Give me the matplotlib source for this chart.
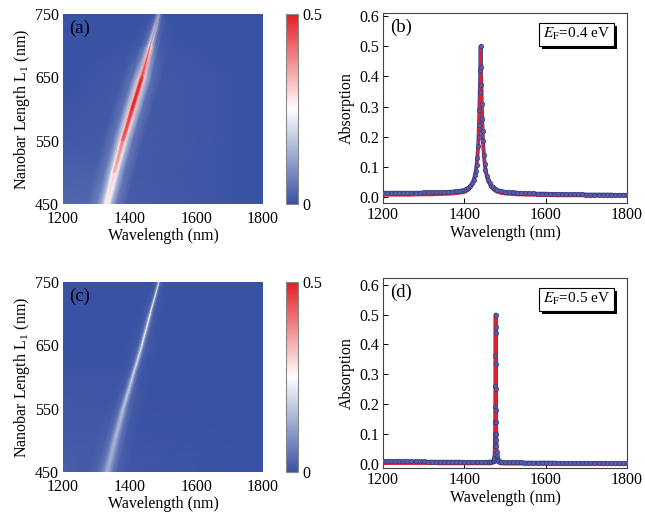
import numpy as np
import matplotlib
matplotlib.use("Agg")
import matplotlib.pyplot as plt
import matplotlib.patheffects as pe
from matplotlib.colors import LinearSegmentedColormap

plt.rcParams["font.family"] = ["Liberation Serif", "DejaVu Serif"]
plt.rcParams["mathtext.fontset"] = "stix"
plt.rcParams["font.size"] = 11.5

# ---- colour maps (a), (c): rows of nanobar length, values around the resonance ----
L_rows = [450, 500, 550, 600, 650, 700, 750]
offsets = [-60, -30, -15, -8, -4, 0, 4, 8, 15, 30, 60]   # nm from resonance

res_a = [1332, 1355, 1380, 1408, 1437, 1462, 1488]
edge_a = [0.03, 0.02, 0.01, 0.005, 0.0, 0.0, 0.0]       # value at 1200 nm
map_a = [
    [0.030, 0.065, 0.140, 0.210, 0.245, 0.260, 0.245, 0.208, 0.138, 0.058, 0.017],
    [0.022, 0.055, 0.140, 0.235, 0.295, 0.320, 0.292, 0.232, 0.137, 0.051, 0.014],
    [0.015, 0.052, 0.150, 0.290, 0.390, 0.420, 0.380, 0.280, 0.147, 0.050, 0.014],
    [0.013, 0.050, 0.160, 0.330, 0.460, 0.500, 0.460, 0.330, 0.160, 0.050, 0.013],
    [0.011, 0.045, 0.150, 0.320, 0.450, 0.500, 0.450, 0.310, 0.140, 0.041, 0.011],
    [0.004, 0.015, 0.052, 0.137, 0.263, 0.380, 0.263, 0.137, 0.052, 0.015, 0.004],
    [0.000, 0.001, 0.005, 0.015, 0.043, 0.120, 0.043, 0.015, 0.005, 0.001, 0.000],
]

res_c = [1333, 1356, 1381, 1409, 1437, 1462, 1488]
edge_c = [0.02, 0.015, 0.01, 0.005, 0.0, 0.0, 0.0]
map_c = [
    [0.015, 0.028, 0.061, 0.098, 0.120, 0.130, 0.120, 0.098, 0.061, 0.023, 0.007],
    [0.012, 0.020, 0.049, 0.092, 0.124, 0.140, 0.124, 0.092, 0.049, 0.017, 0.005],
    [0.008, 0.013, 0.035, 0.080, 0.128, 0.160, 0.128, 0.080, 0.035, 0.011, 0.003],
    [0.004, 0.006, 0.019, 0.053, 0.116, 0.190, 0.116, 0.053, 0.019, 0.005, 0.001],
    [0.001, 0.004, 0.015, 0.044, 0.110, 0.220, 0.110, 0.044, 0.015, 0.004, 0.001],
    [0.000, 0.003, 0.010, 0.032, 0.094, 0.260, 0.094, 0.032, 0.010, 0.003, 0.000],
    [0.000, 0.001, 0.004, 0.012, 0.040, 0.200, 0.040, 0.012, 0.004, 0.001, 0.000],
]

# ---- spectra (b) EF=0.4 eV ----
wl_b = list(range(1200, 1400, 10)) + [
    1400, 1405, 1410, 1415, 1420, 1423, 1426, 1428, 1430, 1432, 1434, 1435, 1436, 1437,
    1438, 1439, 1440, 1441, 1442, 1443, 1444, 1445, 1446, 1448, 1450, 1452, 1455, 1458,
    1462, 1466, 1470, 1475, 1480, 1490] + list(range(1500, 1801, 10))
abs_b = [0.013, 0.013, 0.013, 0.013, 0.013, 0.013, 0.013, 0.013, 0.013, 0.013,
         0.014, 0.014, 0.014, 0.014, 0.015, 0.015, 0.016, 0.017, 0.018, 0.020,
         0.022, 0.025, 0.029, 0.036, 0.046, 0.056, 0.071, 0.086, 0.105, 0.130, 0.170, 0.200, 0.240, 0.290,
         0.350, 0.420, 0.500, 0.430, 0.370, 0.310, 0.260, 0.220, 0.185, 0.140, 0.110, 0.090, 0.070, 0.057,
         0.045, 0.037, 0.031, 0.026, 0.022, 0.018,
         0.016, 0.015, 0.014, 0.013, 0.012, 0.012, 0.011, 0.011, 0.010, 0.010,
         0.010, 0.009, 0.009, 0.009, 0.009, 0.008, 0.008, 0.008, 0.008, 0.008,
         0.007, 0.007, 0.007, 0.007, 0.007, 0.007, 0.007, 0.006, 0.006, 0.006, 0.006]
fit_b = [0.004, 0.004, 0.004, 0.004, 0.004, 0.004, 0.004, 0.004, 0.005, 0.005,
         0.005, 0.005, 0.005, 0.006, 0.006, 0.007, 0.007, 0.008, 0.009, 0.011,
         0.013, 0.016, 0.020, 0.027, 0.038, 0.048, 0.064, 0.080, 0.100, 0.127, 0.167, 0.197, 0.237, 0.288,
         0.350, 0.420, 0.495, 0.430, 0.370, 0.310, 0.260, 0.220, 0.182, 0.137, 0.106, 0.085, 0.064, 0.050,
         0.038, 0.029, 0.023, 0.018, 0.014, 0.010,
         0.008, 0.007, 0.006, 0.005, 0.005, 0.004, 0.004, 0.004, 0.003, 0.003,
         0.003, 0.003, 0.003, 0.002, 0.002, 0.002, 0.002, 0.002, 0.002, 0.002,
         0.001, 0.001, 0.001, 0.001, 0.001, 0.001, 0.001, 0.001, 0.001, 0.001, 0.001]

# ---- spectra (d) EF=0.5 eV ----
wl_d = list(range(1200, 1461, 10)) + [
    1465, 1470, 1472, 1473, 1474, 1474.5, 1475, 1475.25, 1475.5, 1475.75, 1476, 1476.25,
    1476.5, 1476.75, 1477, 1477.25, 1477.5, 1477.75, 1478, 1478.25, 1478.5, 1478.75, 1479,
    1479.5, 1480, 1481, 1482, 1484, 1487, 1490] + list(range(1500, 1801, 10))
abs_d = [0.010, 0.010, 0.010, 0.010, 0.010, 0.009, 0.009, 0.009, 0.009, 0.009,
         0.009, 0.008, 0.008, 0.008, 0.008, 0.008, 0.008, 0.008, 0.008, 0.008,
         0.007, 0.007, 0.007, 0.007, 0.007, 0.007, 0.008,
         0.008, 0.009, 0.011, 0.014, 0.022, 0.035, 0.060, 0.080, 0.100, 0.140, 0.190, 0.260,
         0.360, 0.440, 0.500, 0.460, 0.335, 0.250, 0.180, 0.140, 0.100, 0.080, 0.060,
         0.040, 0.028, 0.018, 0.013, 0.010, 0.008, 0.007,
         0.006, 0.006, 0.006, 0.006, 0.006, 0.005, 0.005, 0.005, 0.005, 0.005,
         0.005, 0.005, 0.005, 0.004, 0.004, 0.004, 0.004, 0.004, 0.004, 0.004,
         0.004, 0.004, 0.004, 0.004, 0.004, 0.004, 0.003, 0.003, 0.003, 0.003, 0.003]
fit_d = [0.001, 0.001, 0.001, 0.001, 0.001, 0.001, 0.001, 0.001, 0.001, 0.001,
         0.001, 0.001, 0.001, 0.001, 0.000, 0.000, 0.000, 0.000, 0.000, 0.000,
         0.000, 0.000, 0.000, 0.000, 0.000, 0.000, 0.000,
         0.000, 0.002, 0.004, 0.007, 0.015, 0.028, 0.055, 0.075, 0.098, 0.138, 0.188, 0.260,
         0.360, 0.440, 0.495, 0.460, 0.335, 0.250, 0.180, 0.138, 0.098, 0.075, 0.055,
         0.034, 0.022, 0.011, 0.006, 0.003, 0.001, 0.000,
         -0.001, -0.001, -0.001, -0.001, -0.001, -0.001, -0.001, -0.001, -0.001, -0.001,
         -0.001, -0.001, -0.002, -0.002, -0.002, -0.002, -0.002, -0.002, -0.002, -0.002,
         -0.002, -0.002, -0.002, -0.002, -0.002, -0.002, -0.002, -0.002, -0.002, -0.002, -0.002]

cmap = LinearSegmentedColormap.from_list("bwr_origin", ["#3a52a3", "#ffffff", "#e41d22"])

fig = plt.figure(figsize=(6.45, 5.12), dpi=100)


def colour_map(pos, cpos, res, edge, vals, tag):
    ax = fig.add_axes(pos)
    X = np.array([[1200] + [r + o for o in offsets] + [1800] for r in res], dtype=float)
    Y = np.array([[L] * (len(offsets) + 2) for L in L_rows], dtype=float)
    C = np.array([[e] + list(v) + [0.0] for e, v in zip(edge, vals)])
    pm = ax.pcolormesh(X, Y, C, shading="gouraud", cmap=cmap, vmin=0, vmax=0.5)
    ax.set_xlim(1200, 1800)
    ax.set_ylim(450, 750)
    ax.set_xticks([1200, 1400, 1600, 1800])
    ax.set_yticks([450, 550, 650, 750])
    ax.tick_params(axis="x", length=0, pad=5)
    ax.tick_params(axis="y", length=0, pad=3)
    for s in ax.spines.values():
        s.set_visible(False)
    ax.set_xlabel("Wavelength (nm)", labelpad=1)
    ax.set_ylabel(r"Nanobar Length L$_\mathregular{1}$ (nm)", labelpad=2)
    ax.text(0.03, 0.97, tag, transform=ax.transAxes, ha="left", va="top", fontsize=13.5)
    cax = fig.add_axes(cpos)
    cb = fig.colorbar(pm, cax=cax, ticks=[0, 0.5])
    cb.ax.set_yticklabels(["0", "0.5"])
    cb.ax.tick_params(length=0, pad=3)
    cb.outline.set_edgecolor("#888888")
    cb.outline.set_linewidth(0.8)


def spectrum(pos, wl, a, fit, ylim, tag, ef):
    ax = fig.add_axes(pos)
    # blue simulated points form a continuous band, red fit line just below
    ax.plot(wl, a, "-", color="#4651a2", lw=2.8, solid_capstyle="butt", zorder=2)
    ax.plot(wl, fit, "-", color="#e3202a", lw=1.6, zorder=3)
    ax.plot(wl, a, "o", ms=3.2, mfc="#5a60aa", mec="#363c82", mew=0.6, alpha=0.9, zorder=4)
    ax.set_xlim(1200, 1800)
    ax.set_ylim(*ylim)
    ax.set_xticks([1200, 1400, 1600, 1800])
    ax.set_yticks([0.0, 0.1, 0.2, 0.3, 0.4, 0.5, 0.6])
    ax.yaxis.set_major_formatter(matplotlib.ticker.FormatStrFormatter("%.1f"))
    ax.tick_params(direction="in", length=3.5, width=0.7, pad=3)
    for s in ax.spines.values():
        s.set_linewidth(0.8)
        s.set_color("#444444")
    ax.set_xlabel("Wavelength (nm)", labelpad=1)
    ax.set_ylabel("Absorption", labelpad=3)
    ax.text(0.03, 0.97, tag, transform=ax.transAxes, ha="left", va="top", fontsize=13.5)
    label = r"$E_\mathrm{F}$=" + ef + " eV"
    t = ax.text(0.93, 0.93, label, transform=ax.transAxes, ha="right", va="top", fontsize=11,
                zorder=5, bbox=dict(boxstyle="square,pad=0.25", fc="white", ec="black", lw=0.8))
    t.get_bbox_patch().set_path_effects([
        pe.SimplePatchShadow(offset=(2.2, -2.2), shadow_rgbFace="black", alpha=1.0),
        pe.Normal()])


colour_map([0.0977, 0.6016, 0.310, 0.371], [0.4434, 0.6016, 0.0186, 0.371],
           res_a, edge_a, map_a, "(a)")
spectrum([0.5938, 0.6035, 0.3783, 0.371], wl_b, abs_b, fit_b, (-0.021, 0.611), "(b)", "0.4")
colour_map([0.0977, 0.0781, 0.310, 0.371], [0.4434, 0.0781, 0.0186, 0.371],
           res_c, edge_c, map_c, "(c)")
spectrum([0.5938, 0.0859, 0.3783, 0.371], wl_d, abs_d, fit_d, (-0.013, 0.622), "(d)", "0.5")

fig.savefig("out.png", dpi=100)
